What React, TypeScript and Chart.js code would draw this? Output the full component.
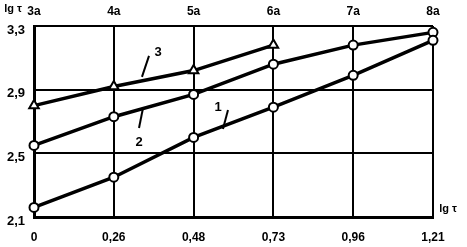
import React, { useEffect, useRef } from 'react';
import { Chart, registerables } from 'chart.js';
Chart.register(...registerables);

const xLabels = ['0', '0,26', '0,48', '0,73', '0,96', '1,21'];
const topLabels = ['3a', '4a', '5a', '6a', '7a', '8a'];
const yTicks = [2.1, 2.5, 2.9, 3.3];
const series1 = [2.16, 2.35, 2.6, 2.79, 2.99, 3.21];
const series2 = [2.55, 2.73, 2.87, 3.06, 3.18, 3.26];
const series3 = [2.8, 2.92, 3.02, 3.18];
const seriesNames = ['1', '2', '3'];
const axisTitle = 'lg τ';

// annotation anchors (data units: category index, value)
const labelAnchors = [
  { tx: 2.306, ty: 2.79, x1: 2.431, y1: 2.772, x2: 2.368, y2: 2.653 },
  { tx: 1.316, ty: 2.571, x1: 1.366, y1: 2.785, x2: 1.316, y2: 2.659 },
  { tx: 1.554, ty: 3.137, x1: 1.441, y1: 3.112, x2: 1.353, y2: 2.98 },
];

const FONT = '"Liberation Sans", Arial, sans-serif';

const annotate = {
  id: 'annotate',
  afterDatasetsDraw(chart: any) {
    const { ctx, chartArea, scales } = chart;
    const x = scales.x;
    const y = scales.y;
    ctx.save();
    ctx.strokeStyle = '#000';
    ctx.fillStyle = '#000';
    ctx.lineWidth = 2;
    ctx.font = `bold 13px ${FONT}`;
    ctx.textAlign = 'center';
    ctx.textBaseline = 'middle';
    labelAnchors.forEach((a, i) => {
      ctx.beginPath();
      ctx.moveTo(x.getPixelForValue(a.x1), y.getPixelForValue(a.y1));
      ctx.lineTo(x.getPixelForValue(a.x2), y.getPixelForValue(a.y2));
      ctx.stroke();
      ctx.fillText(seriesNames[i], x.getPixelForValue(a.tx), y.getPixelForValue(a.ty));
    });
    ctx.font = `bold 11px ${FONT}`;
    ctx.fillText(axisTitle, chartArea.left - 21, chartArea.top - 17);
    ctx.fillText(axisTitle, chartArea.right + 15, chartArea.bottom - 8);
    ctx.restore();
  },
};

export default function App() {
  const ref = useRef<HTMLCanvasElement | null>(null);
  useEffect(() => {
    if (!ref.current) return;
    const pointCommon = {
      borderColor: '#000',
      backgroundColor: '#fff',
      borderWidth: 3.5,
      pointBorderWidth: 2,
      pointBackgroundColor: '#fff',
      pointBorderColor: '#000',
      tension: 0,
    };
    const chart = new Chart(ref.current, {
      type: 'line',
      data: {
        labels: xLabels,
        datasets: [
          { label: seriesNames[0], data: series1, pointStyle: 'circle', pointRadius: 4.5, ...pointCommon },
          { label: seriesNames[1], data: series2, pointStyle: 'circle', pointRadius: 4.5, ...pointCommon },
          { label: seriesNames[2], data: series3, pointStyle: 'triangle', pointRadius: 5.5, ...pointCommon },
        ],
      },
      options: {
        responsive: false,
        animation: false,
        layout: { padding: { left: 0, right: 34, top: 0, bottom: 0 } },
        plugins: { legend: { display: false }, tooltip: { enabled: false } },
        scales: {
          x: {
            type: 'category',
            position: 'bottom',
            offset: false,
            grid: { color: '#000', lineWidth: 2, drawTicks: false },
            border: { display: true, color: '#000', width: 3 },
            ticks: { color: '#000', font: { family: FONT, size: 12, weight: 'bold' }, padding: 13, maxRotation: 0, autoSkip: false },
            afterFit: (s: any) => { s.height = 30; },
          },
          x2: {
            type: 'category',
            position: 'top',
            labels: topLabels,
            offset: false,
            grid: { display: false, drawTicks: false },
            border: { display: false },
            ticks: { color: '#000', font: { family: FONT, size: 12, weight: 'bold' }, padding: 7, maxRotation: 0, autoSkip: false },
            afterFit: (s: any) => { s.height = 26; },
          },
          y: {
            type: 'linear',
            min: 2.1,
            max: 3.3,
            grid: { color: '#000', lineWidth: 2, drawTicks: false },
            border: { display: true, color: '#000', width: 3 },
            afterBuildTicks: (s: any) => { s.ticks = yTicks.map((v) => ({ value: v })); },
            ticks: {
              color: '#000',
              font: { family: FONT, size: 13, weight: 'bold' },
              padding: 9,
              labelOffset: 4,
              callback: (v: any) => Number(v).toFixed(1).replace('.', ','),
            },
            afterFit: (s: any) => { s.width = 34; },
          },
        },
      },
      plugins: [annotate],
    } as any);
    return () => chart.destroy();
  }, []);
  return (
    <div style={{ position: 'absolute', left: 0, top: 0, width: 467, height: 247 }}>
      <canvas ref={ref} width={467} height={247} style={{ display: 'block' }} />
    </div>
  );
}
